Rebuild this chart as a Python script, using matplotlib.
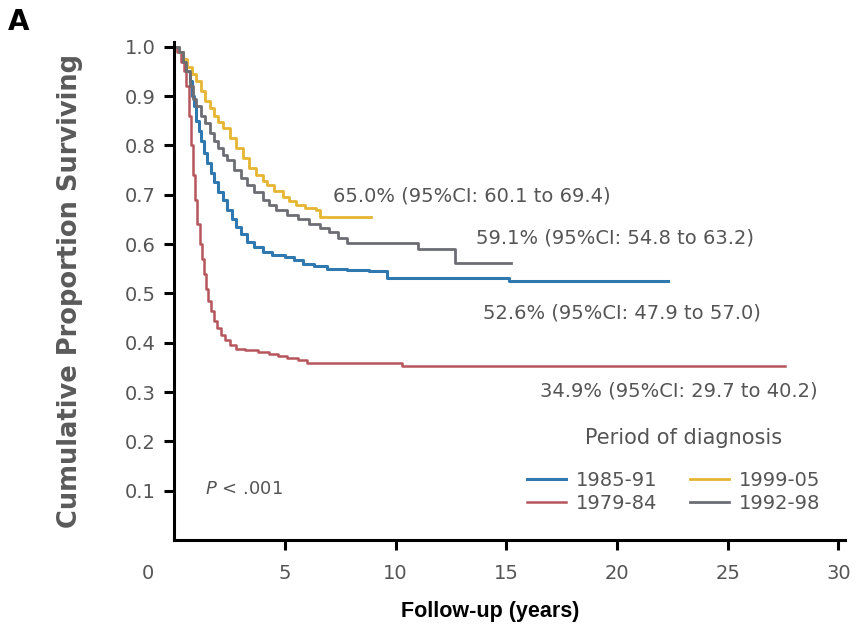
import numpy as np
import matplotlib
matplotlib.use("Agg")
import matplotlib.pyplot as plt
import matplotlib.transforms as mtransforms

# survival curves (years, proportion surviving)
t_7984 = [0, 0.15, 0.3, 0.45, 0.55, 0.65, 0.75, 0.85, 0.95, 1.05, 1.15, 1.25, 1.35, 1.45, 1.55, 1.65,
          1.8, 1.95, 2.1, 2.3, 2.5, 2.8, 3.2, 3.8, 4.3, 4.7, 5.1, 5.6, 6.0, 10.3, 27.6]
s_7984 = [1.0, 0.99, 0.97, 0.95, 0.92, 0.86, 0.80, 0.74, 0.69, 0.64, 0.60, 0.57, 0.54, 0.51, 0.485, 0.465,
          0.445, 0.43, 0.415, 0.405, 0.395, 0.388, 0.385, 0.382, 0.378, 0.374, 0.37, 0.365, 0.36, 0.352, 0.352]

t_8591 = [0, 0.2, 0.4, 0.55, 0.7, 0.8, 0.9, 1.0, 1.1, 1.2, 1.35, 1.5, 1.65, 1.8, 2.0, 2.2, 2.4, 2.6, 2.8,
          3.0, 3.3, 3.6, 4.0, 4.4, 5.0, 5.4, 5.8, 6.3, 6.9, 7.8, 8.8, 9.6, 15.1, 22.3]
s_8591 = [1.0, 0.99, 0.97, 0.95, 0.93, 0.90, 0.88, 0.85, 0.83, 0.81, 0.785, 0.765, 0.745, 0.725, 0.705, 0.69,
          0.67, 0.65, 0.635, 0.62, 0.605, 0.595, 0.585, 0.578, 0.574, 0.568, 0.56, 0.555, 0.549, 0.547, 0.545,
          0.531, 0.526, 0.526]

t_9298 = [0, 0.2, 0.4, 0.55, 0.7, 0.85, 1.0, 1.2, 1.4, 1.6, 1.8, 2.0, 2.2, 2.4, 2.7, 3.0, 3.3, 3.6, 4.0,
          4.3, 4.6, 5.1, 5.6, 6.1, 6.6, 7.0, 7.4, 7.8, 11.0, 12.7, 15.2]
s_9298 = [1.0, 0.99, 0.97, 0.95, 0.92, 0.895, 0.88, 0.86, 0.845, 0.825, 0.81, 0.795, 0.78, 0.77, 0.75, 0.735,
          0.72, 0.705, 0.69, 0.68, 0.67, 0.66, 0.65, 0.64, 0.632, 0.625, 0.612, 0.602, 0.59, 0.562, 0.562]

t_9905 = [0, 0.2, 0.4, 0.6, 0.8, 1.0, 1.2, 1.4, 1.6, 1.8, 2.0, 2.2, 2.5, 2.8, 3.1, 3.4, 3.7, 4.0, 4.2,
          4.5, 4.9, 5.2, 5.5, 5.9, 6.4, 6.6, 8.9]
s_9905 = [1.0, 0.99, 0.975, 0.96, 0.945, 0.93, 0.91, 0.89, 0.875, 0.86, 0.848, 0.835, 0.815, 0.795, 0.775,
          0.755, 0.74, 0.728, 0.72, 0.708, 0.695, 0.687, 0.68, 0.674, 0.67, 0.655, 0.655]

labels = ["1985-91", "1979-84", "1999-05", "1992-98"]
notes = ["65.0% (95%CI: 60.1 to 69.4)", "59.1% (95%CI: 54.8 to 63.2)",
         "52.6% (95%CI: 47.9 to 57.0)", "34.9% (95%CI: 29.7 to 40.2)"]

col_blue = "#2f78b0"
col_red = "#b5555c"
col_yel = "#e6b531"
col_grey = "#6d6d74"
txt = "#555555"

fig = plt.figure(figsize=(8.58, 6.34), dpi=100)
ax = fig.add_axes([0.203, 0.148, 0.782, 0.786])

l1, = ax.step(t_8591, s_8591, where="post", color=col_blue, lw=2.2)
l2, = ax.step(t_7984, s_7984, where="post", color=col_red, lw=1.8)
l3, = ax.step(t_9905, s_9905, where="post", color=col_yel, lw=2.0)
l4, = ax.step(t_9298, s_9298, where="post", color=col_grey, lw=2.0)

ax.set_xlim(0, 30.3)
ax.set_ylim(0, 1.01)
ax.set_xticks(range(0, 31, 5))
ax.set_yticks(np.arange(0.1, 1.01, 0.1))
ax.set_yticklabels([f"{v:.1f}" for v in np.arange(0.1, 1.01, 0.1)])
for s in ["top", "right"]:
    ax.spines[s].set_visible(False)
for s in ["left", "bottom"]:
    ax.spines[s].set_linewidth(2.2)
ax.tick_params(axis="both", direction="out", length=7, width=2.2, colors="black",
               labelcolor=txt, labelsize=14)
ax.tick_params(axis="x", pad=10)
ax.tick_params(axis="y", pad=6)
# the "0" label sits left of the axis in the original
xl = ax.get_xticklabels()
xl[0].set_transform(xl[0].get_transform() + mtransforms.ScaledTranslation(-0.26, 0, fig.dpi_scale_trans))
ax.xaxis.get_major_ticks()[0].tick1line.set_visible(False)

ax.set_ylabel("Cumulative Proportion Surviving", fontsize=18.5, fontweight="bold",
              color="#5a5a5a", labelpad=30)
fig.text(490 / 858, 1 - 612 / 634, "Follow-up (years)", fontsize=15.5, fontweight="bold",
         ha="center", va="center", family=["Liberation Sans", "DejaVu Sans"])
fig.text(8 / 858, 1 - 22 / 634, "A", fontsize=20, fontweight="bold", ha="left", va="center")

ax.text(7.15, 0.697, notes[0], fontsize=14, color=txt, va="center")
ax.text(13.65, 0.612, notes[1], fontsize=14, color=txt, va="center")
ax.text(13.95, 0.46, notes[2], fontsize=14, color=txt, va="center")
ax.text(16.5, 0.303, notes[3], fontsize=14, color=txt, va="center")
ax.text(1.4, 0.103, "$P$ < .001", fontsize=13, color=txt, va="center")

ax.text(23.0, 0.208, "Period of diagnosis", fontsize=15, color=txt, ha="center", va="center")
leg = ax.legend([l1, l2, l3, l4], labels, ncol=2, loc="lower right",
                bbox_to_anchor=(0.977, 0.035), frameon=False, borderpad=0,
                prop={"size": 14}, handlelength=2.0,
                columnspacing=1.7, labelspacing=0.2, handletextpad=0.5)
for t in leg.get_texts():
    t.set_color(txt)

fig.savefig("out.png", dpi=100)
